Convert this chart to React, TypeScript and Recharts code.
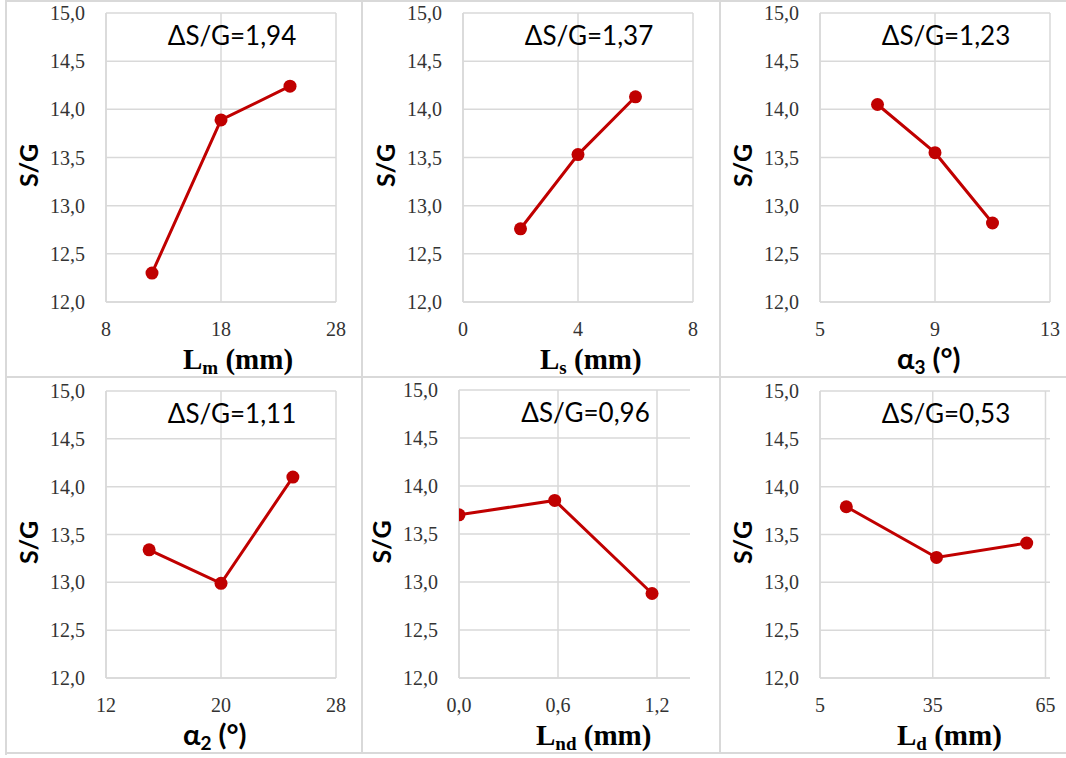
import { LineChart, Line, XAxis, YAxis, CartesianGrid, Customized } from "recharts";

// S/G main effects, one set of arrays per factor
const lmX = [12, 18, 24];
const lmY = [12.3, 13.89, 14.24];
const lmTicks = [8, 18, 28];

const lsX = [2, 4, 6];
const lsY = [12.76, 13.53, 14.13];
const lsTicks = [0, 4, 8];

const a3X = [7, 9, 11];
const a3Y = [14.05, 13.55, 12.82];
const a3Ticks = [5, 9, 13];

const a2X = [15, 20, 25];
const a2Y = [13.34, 12.99, 14.1];
const a2Ticks = [12, 20, 28];

const lndX = [0, 0.58, 1.17];
const lndY = [13.7, 13.85, 12.88];
const lndTicks = [0, 0.6, 1.2];

const ldX = [12, 36, 60];
const ldY = [13.79, 13.26, 13.41];
const ldTicks = [5, 35, 65];

const yTicks = [12, 12.5, 13, 13.5, 14, 14.5, 15];
const deltas = ["1,94", "1,37", "1,23", "1,11", "0,96", "0,53"];

const RED = "#c00000";
const GRID = "#d9d9d9";
const SERIF = "'Liberation Serif', 'Times New Roman', serif";
const SANS = "Lato, 'Noto Sans', sans-serif";
const Y_W = 60;
const X_H = 60;

type Part = { text: string; sub?: boolean };

interface PanelDef {
  xs: number[];
  ys: number[];
  ticks: number[];
  domain: [number, number];
  decimals: number;
  title: Part[];
  titleFont: string;
  delta: string;
  // panel box and plot box, page px
  box: [number, number, number, number];
  plot: [number, number, number, number];
}

const panels: PanelDef[] = [
  {
    xs: lmX, ys: lmY, ticks: lmTicks, domain: [8, 28], decimals: 0,
    title: [{ text: "L" }, { text: "m", sub: true }, { text: " (mm)" }], titleFont: SERIF,
    delta: deltas[0], box: [6, 1, 356, 376], plot: [106, 13, 336, 302],
  },
  {
    xs: lsX, ys: lsY, ticks: lsTicks, domain: [0, 8], decimals: 0,
    title: [{ text: "L" }, { text: "s", sub: true }, { text: " (mm)" }], titleFont: SERIF,
    delta: deltas[1], box: [362, 1, 358, 376], plot: [463, 13, 693, 302],
  },
  {
    xs: a3X, ys: a3Y, ticks: a3Ticks, domain: [5, 13], decimals: 0,
    title: [{ text: "α" }, { text: "3", sub: true }, { text: " (°)" }], titleFont: SANS,
    delta: deltas[2], box: [720, 1, 346, 376], plot: [820, 13, 1050, 302],
  },
  {
    xs: a2X, ys: a2Y, ticks: a2Ticks, domain: [12, 28], decimals: 0,
    title: [{ text: "α" }, { text: "2", sub: true }, { text: " (°)" }], titleFont: SANS,
    delta: deltas[3], box: [6, 377, 356, 376], plot: [106, 391, 336, 678],
  },
  {
    xs: lndX, ys: lndY, ticks: lndTicks, domain: [0, 1.4], decimals: 1,
    title: [{ text: "L" }, { text: "nd", sub: true }, { text: " (mm)" }], titleFont: SERIF,
    delta: deltas[4], box: [362, 377, 358, 376], plot: [459, 390, 690, 678],
  },
  {
    xs: ldX, ys: ldY, ticks: ldTicks, domain: [5, 66.2], decimals: 0,
    title: [{ text: "L" }, { text: "d", sub: true }, { text: " (mm)" }], titleFont: SERIF,
    delta: deltas[5], box: [720, 377, 346, 376], plot: [820, 391, 1050, 678],
  },
];

const fmt = (v: number, d: number) => v.toFixed(d).replace(".", ",");

interface TickProps {
  x?: number;
  y?: number;
  payload?: { value: number };
  decimals: number;
  vertical?: boolean;
}

const SerifTick = ({ x = 0, y = 0, payload, decimals, vertical }: TickProps) => (
  <text
    x={x}
    y={y}
    dy={vertical ? "0.35em" : "0.72em"}
    textAnchor={vertical ? "end" : "middle"}
    fontFamily={SERIF}
    fontSize={20}
    fill="#333"
  >
    {payload ? fmt(payload.value, decimals) : ""}
  </text>
);

const Panel = ({ p }: { p: PanelDef }) => {
  const [bx, by, bw, bh] = p.box;
  const [l, t, r, b] = p.plot;
  // plot area in chart-local px
  const pl = l - bx;
  const pt = t - by;
  const pw = r - l;
  const ph = b - t;
  const margin = { left: pl - Y_W, top: pt, right: bw - pl - pw, bottom: bh - pt - ph - X_H };
  const data = p.xs.map((x, i) => ({ x, y: p.ys[i] }));

  return (
    <div style={{ position: "absolute", left: bx, top: by }}>
      <LineChart width={bw} height={bh} data={data} margin={margin} style={{ overflow: "visible" }}>
        <CartesianGrid stroke={GRID} strokeWidth={1.5} verticalValues={p.ticks} horizontalValues={yTicks} />
        <XAxis
          type="number"
          dataKey="x"
          domain={p.domain}
          ticks={p.ticks}
          allowDataOverflow
          height={X_H}
          tickLine={false}
          axisLine={{ stroke: GRID, strokeWidth: 1.5 }}
          tickMargin={14}
          tick={<SerifTick decimals={p.decimals} />}
          label={{
            content: () => (
              <text
                x={pl + 77}
                y={pt + ph + 67}
                fontFamily={p.titleFont}
                fontWeight="bold"
                fontSize={29}
                fill="#000"
              >
                {p.title.map((part, i) => (
                  <tspan
                    key={i}
                    fontSize={part.sub ? 19 : 29}
                    dy={part.sub ? 5 : i > 0 ? -5 : 0}
                  >
                    {part.text}
                  </tspan>
                ))}
              </text>
            ),
          }}
        />
        <YAxis
          type="number"
          domain={[12, 15]}
          ticks={yTicks}
          width={Y_W}
          tickLine={false}
          axisLine={{ stroke: GRID, strokeWidth: 1.5 }}
          tickMargin={15}
          tick={<SerifTick decimals={1} vertical />}
          label={{
            content: () => {
              const cx = pl - 78;
              const cy = pt + ph / 2 + 8;
              return (
                <text
                  x={cx}
                  y={cy}
                  transform={`rotate(-90 ${cx} ${cy})`}
                  textAnchor="middle"
                  dominantBaseline="central"
                  fontFamily={SANS}
                  fontWeight="bold"
                  fontSize={25}
                  fill="#000"
                >
                  S/G
                </text>
              );
            },
          }}
        />
        <Customized
          component={
            <text
              x={pl + pw / 2 + 11}
              y={pt + 32}
              textAnchor="middle"
              fontFamily={SANS}
              fontSize={26}
              fill="#000"
            >
              {"ΔS/G=" + p.delta}
            </text>
          }
        />
        <Line
          type="linear"
          dataKey="y"
          stroke={RED}
          strokeWidth={3}
          dot={{ r: 6.5, fill: RED, stroke: RED, strokeWidth: 0 }}
          activeDot={false}
          isAnimationActive={false}
        />
      </LineChart>
    </div>
  );
};

const frame = [
  { left: 5, top: 0, width: 2, height: 755 },
  { left: 5, top: 0, width: 1061, height: 2 },
  { left: 5, top: 752, width: 1061, height: 2 },
  { left: 361, top: 0, width: 2, height: 754 },
  { left: 719, top: 0, width: 2, height: 754 },
  { left: 5, top: 376, width: 1061, height: 2 },
];

const App = () => {
  return (
    <div style={{ position: "absolute", left: 0, top: 0, width: 1066, height: 758, background: "#fff" }}>
      {panels.map((p, i) => (
        <Panel key={i} p={p} />
      ))}
      {frame.map((f, i) => (
        <div key={i} style={{ position: "absolute", background: GRID, ...f }} />
      ))}
    </div>
  );
};

export default App;
